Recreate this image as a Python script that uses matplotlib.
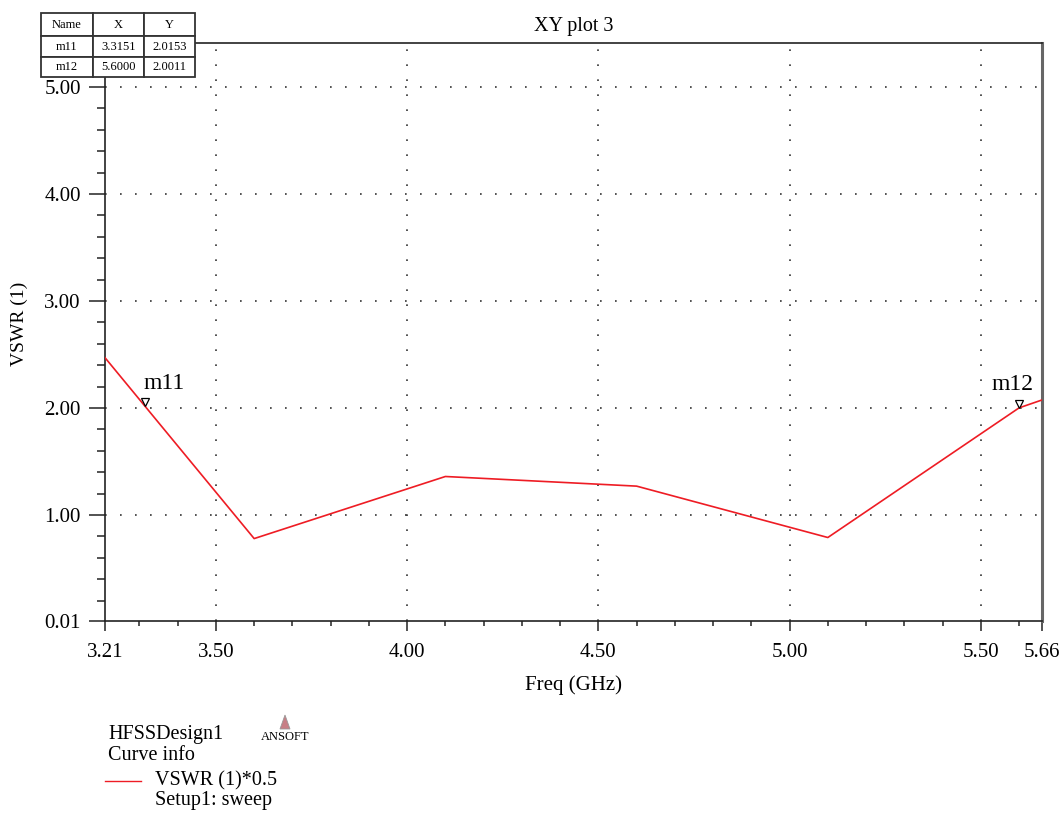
import matplotlib
matplotlib.use("Agg")
import matplotlib.pyplot as plt
import matplotlib.transforms as mtransforms
from matplotlib.patches import Rectangle, Polygon
from matplotlib.lines import Line2D

plt.rcParams['font.family'] = ['Liberation Serif', 'DejaVu Serif']

# sweep data
freq = [3.21, 3.60, 4.10, 4.60, 5.10, 5.60, 5.66]
vswr = [2.47, 0.78, 1.36, 1.27, 0.79, 2.0011, 2.075]

marker_names = ["m11", "m12"]
marker_x = [3.3151, 5.6000]
marker_y = [2.0153, 2.0011]

xticks = [3.21, 3.50, 4.00, 4.50, 5.00, 5.50, 5.66]
xgrid = [3.50, 4.00, 4.50, 5.00, 5.50]
xminor = [3.3, 3.4, 3.6, 3.7, 3.8, 3.9, 4.1, 4.2, 4.3, 4.4, 4.6, 4.7, 4.8, 4.9,
          5.1, 5.2, 5.3, 5.4, 5.6]
yticks = [0.01, 1.00, 2.00, 3.00, 4.00, 5.00]
ygrid = [1.00, 2.00, 3.00, 4.00, 5.00]
yminor = [0.2, 0.4, 0.6, 0.8, 1.2, 1.4, 1.6, 1.8, 2.2, 2.4, 2.6, 2.8, 3.2, 3.4,
          3.6, 3.8, 4.2, 4.4, 4.6, 4.8, 5.2, 5.4]

W, H = 1064, 817
fig = plt.figure(figsize=(W / 100, H / 100), dpi=100)
ax = fig.add_axes([105 / W, (H - 621) / H, (1042 - 105) / W, (621 - 43) / H])

ax.set_xlim(3.21, 5.66)
ax.set_ylim(0.01, 5.41)

for g in xgrid:
    ax.axvline(g, color='#333333', lw=1.2, ls=(0, (1, 8)), zorder=1)
for g in ygrid:
    ax.axhline(g, color='#333333', lw=1.2, ls=(0, (1, 8)), zorder=1)

ax.plot(freq, vswr, color='#ee1c24', lw=1.2, zorder=3)

# markers: open down-triangles sitting on the curve
off = mtransforms.offset_copy(ax.transData, fig=fig, x=0, y=4, units='dots')
ax.plot(marker_x, marker_y, ls='none', marker='v', ms=6, mfc='white',
        mec='black', mew=0.9, transform=off, zorder=4)
label_dx = [19, -7]
for name, mx, my, dx in zip(marker_names, marker_x, marker_y, label_dx):
    ax.annotate(name, (mx, my), xytext=(dx * 0.72, 9), textcoords='offset points',
                ha='center', va='bottom', fontsize=17)

ax.set_xticks(xticks)
ax.set_xticklabels(["%.2f" % v for v in xticks])
ax.set_xticks(xminor, minor=True)
ax.set_yticks(yticks)
ax.set_yticklabels(["%.2f" % v for v in yticks])
ax.set_yticks(yminor, minor=True)

ax.tick_params(axis='x', which='major', direction='out', length=7.5, width=1.3,
               color='#444444', labelsize=15, pad=8)
ax.tick_params(axis='x', which='minor', direction='out', length=3.8, width=1.3,
               color='#444444')
ax.tick_params(axis='y', which='major', direction='out', length=11.5, width=1.3,
               color='#444444', labelsize=15, pad=6)
ax.tick_params(axis='y', which='minor', direction='out', length=5.8, width=1.3,
               color='#444444')

for s in ['left', 'bottom', 'top']:
    ax.spines[s].set_color('#222222')
    ax.spines[s].set_linewidth(1.2)
ax.spines['right'].set_color('#666666')
ax.spines['right'].set_linewidth(2.2)

ax.set_title("XY plot 3", fontsize=14.5, pad=9)
ax.set_xlabel("Freq (GHz)", fontsize=15, va='center')
ax.xaxis.set_label_coords(0.5, -(685 - 621) / 578)
ax.set_ylabel("VSWR (1)", fontsize=14, va='center')
ax.yaxis.set_label_coords(-(105 - 19) / 937, 1 - (324 - 43) / 578)

# marker table in the top-left corner
col_edges = [41, 93, 144, 195]
row_edges = [13, 36, 57, 77]
table_rows = [["Name", "X", "Y"],
              ["m11", "%.4f" % marker_x[0], "%.4f" % marker_y[0]],
              ["m12", "%.4f" % marker_x[1], "%.4f" % marker_y[1]]]
for r in range(3):
    for c in range(3):
        x0, x1 = col_edges[c], col_edges[c + 1]
        y0, y1 = row_edges[r], row_edges[r + 1]
        fig.add_artist(Rectangle((x0 / W, 1 - y1 / H), (x1 - x0) / W, (y1 - y0) / H,
                                 transform=fig.transFigure, facecolor='white',
                                 edgecolor='#333333', lw=1.3, zorder=10))
        fig.text((x0 + x1) / 2 / W, 1 - (y0 + y1) / 2 / H, table_rows[r][c],
                 ha='center', va='center', fontsize=9, zorder=11)

# curve info block
fig.text(108 / W, 1 - 735 / H, "HFSSDesign1", fontsize=14.5, va='center')
fig.text(108 / W, 1 - 755 / H, "Curve info", fontsize=14.5, va='center')
fig.add_artist(Line2D([105 / W, 141 / W], [1 - 781 / H, 1 - 781 / H],
                      transform=fig.transFigure, color='#ee1c24', lw=1.0))
fig.text(155 / W, 1 - 781 / H, "VSWR (1)*0.5", fontsize=14.5, va='center')
fig.text(155 / W, 1 - 801 / H, "Setup1: sweep", fontsize=14.5, va='center')

# ANSOFT logo
fig.add_artist(Polygon([[280 / W, 1 - 729 / H], [290 / W, 1 - 729 / H],
                        [285 / W, 1 - 715 / H]], closed=True,
                       transform=fig.transFigure, facecolor='#c77f86',
                       edgecolor='#999999', lw=0.6))
fig.text(285 / W, 1 - 737 / H, "ANSOFT", fontsize=9, ha='center', va='center')

fig.savefig("out.png", dpi=100)
